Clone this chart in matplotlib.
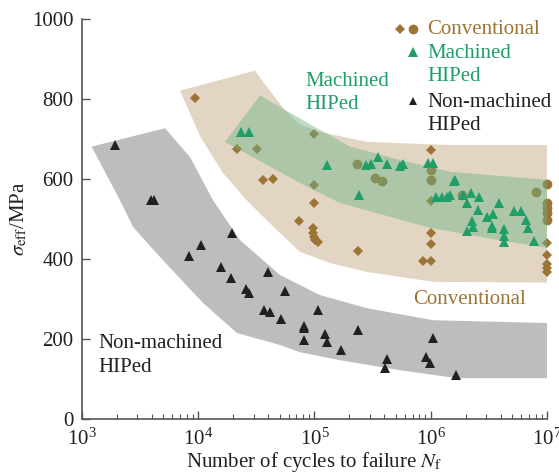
import numpy as np
import matplotlib
matplotlib.use('Agg')
import matplotlib.pyplot as plt
from matplotlib.ticker import LogLocator, NullFormatter

plt.rcParams['font.family'] = ['Liberation Serif', 'DejaVu Serif']
plt.rcParams['mathtext.fontset'] = 'stix'

# scatter data: cycles to failure, effective stress (MPa)
conv_dia_N = [9400, 21400, 31800, 35800, 44200, 73600, 99600, 99600, 99600,
              97000, 98000, 98500, 100500, 108000, 238000, 863000,
              1.0e6, 1.0e6, 1.0e6, 1.0e6, 1.0e6, 1e7, 1e7, 1e7, 1e7, 1e7]
conv_dia_S = [802, 674, 676, 598, 600, 496, 712, 585, 541,
              478, 466, 456, 448, 443, 421, 395,
              672, 546, 466, 437, 395, 441, 410, 388, 377, 368]

conv_cir_N = [231000, 331000, 378000, 1.0e6, 1.0e6, 1.87e6, 8.0e6,
              1e7, 1e7, 1e7, 1e7, 1e7]
conv_cir_S = [637, 603, 596, 622, 597, 560, 567, 587, 541, 527, 516, 498]

mach_N = [23300, 27500, 127000, 243000, 277000, 304000, 354000, 418000, 544000,
          573000, 953000, 1.04e6, 1.12e6, 1.24e6, 1.37e6, 1.47e6, 1.58e6,
          1.62e6, 1.91e6, 2.07e6, 2.22e6, 2.6e6, 2.56e6, 2.25e6, 2.3e6, 2.07e6,
          3.03e6, 3.45e6, 3.34e6, 3.34e6, 3.89e6, 4.27e6, 4.27e6, 4.27e6,
          5.2e6, 5.94e6, 6.55e6, 6.81e6, 7.78e6]
mach_S = [718, 718, 635, 560, 635, 637, 656, 637, 632,
          637, 639, 639, 554, 554, 554, 560, 595,
          597, 560, 539, 564, 554, 523, 496, 479, 471,
          506, 512, 482, 477, 541, 474, 457, 443,
          521, 519, 498, 477, 446]

nonmach_N = [1925, 3950, 4150, 8370, 10500, 15700, 19000, 19400, 25800, 27200,
             37000, 40100, 41400, 51700, 55700, 80600, 82000, 81200, 107900,
             123000, 127000, 169000, 238000, 406000, 423000, 911000, 985000,
             1.052e6, 1.64e6]
nonmach_S = [685, 548, 548, 407, 435, 379, 353, 464, 324, 314,
             272, 368, 267, 251, 320, 233, 228, 197, 272,
             212, 192, 172, 222, 127, 149, 156, 139,
             203, 110]

# scatter bands (outline traced clockwise)
conv_band_N = [6970, 30800, 38800, 55700, 75000, 111000, 281000, 1.47e6, 1e7,
               1e7, 1.046e6, 281000, 136000, 75000, 38800, 26100, 16300, 10400]
conv_band_S = [821, 871, 831, 772, 737, 718, 693, 685, 685,
               341, 343, 368, 390, 418, 497, 547, 615, 706]

mach_band_N = [17000, 34000, 91400, 202000, 543000, 1.47e6, 1e7,
               1e7, 3.72e6, 986000, 166000, 75000]
mach_band_S = [693, 809, 737, 681, 648, 618, 598,
               428, 448, 478, 540, 590]

nonmach_band_N = [1210, 5180, 8490, 13400, 22900, 50500, 111000, 283000, 1.046e6, 1e7,
                  1e7, 1.68e6, 543000, 166000, 75000, 50500, 21500, 11000, 4690, 2750, 2120]
nonmach_band_S = [681, 727, 655, 547, 447, 360, 310, 277, 247, 240,
                  102, 102, 122, 147, 167, 185, 215, 290, 405, 480, 547]

brown = '#9c7434'
green = '#1f9e68'
black = '#231f20'

fig = plt.figure(figsize=(5.59, 4.75), dpi=100)
ax = fig.add_axes([0.1467, 0.1179, 0.8318, 0.842])
ax.set_xscale('log')

ax.fill(conv_band_N, conv_band_S, color='#e3d5c3', lw=0, zorder=1)
ax.fill(nonmach_band_N, nonmach_band_S, color='#bdbdbd', lw=0, zorder=1)

ax.plot(conv_dia_N, conv_dia_S, 'D', color=brown, ms=5.5, mew=0, zorder=2, clip_on=False)
ax.plot(conv_cir_N, conv_cir_S, 'o', color=brown, ms=7, mew=0, zorder=2, clip_on=False)

ax.fill(mach_band_N, mach_band_S, color='#69b485', alpha=0.45, lw=0, zorder=3)

ax.plot(mach_N, mach_S, '^', color=green, ms=7.5, mew=0, zorder=4, clip_on=False)
ax.plot(nonmach_N, nonmach_S, '^', color=black, ms=7.5, mew=0, zorder=4, clip_on=False)

# band labels
ax.text(82800, 816, 'Machined\nHIPed', color=green, fontsize=15, ha='left', va='center',
        linespacing=1.3)
ax.text(703000, 300, 'Conventional', color=brown, fontsize=15, ha='left', va='center')
ax.text(1374, 159, 'Non-machined\nHIPed', color=black, fontsize=15, ha='left', va='center',
        linespacing=1.3)

# key, top right (markers sit on the first line of each entry)
tr = ax.transAxes
ax.plot([0.684], [0.975], 'D', color=brown, ms=5.5, mew=0, transform=tr, clip_on=False)
ax.plot([0.711], [0.975], 'o', color=brown, ms=7, mew=0, transform=tr, clip_on=False)
ax.plot([0.711], [0.917], '^', color=green, ms=6.5, mew=0, transform=tr, clip_on=False)
ax.plot([0.711], [0.796], '^', color=black, ms=5.5, mew=0, transform=tr, clip_on=False)
ax.text(0.742, 0.975, 'Conventional', color=brown, fontsize=15, ha='left', va='center',
        transform=tr)
ax.text(0.742, 0.886, 'Machined\nHIPed', color=green, fontsize=15, ha='left', va='center',
        linespacing=1.3, transform=tr)
ax.text(0.742, 0.763, 'Non-machined\nHIPed', color=black, fontsize=15, ha='left', va='center',
        linespacing=1.3, transform=tr)

ax.set_xlim(1e3, 1e7)
ax.set_ylim(0, 1000)
ax.set_yticks(np.arange(0, 1001, 200))
ax.xaxis.set_minor_locator(LogLocator(base=10, subs=np.arange(2, 10)))
ax.xaxis.set_minor_formatter(NullFormatter())

for s in ['top', 'right']:
    ax.spines[s].set_visible(False)
for s in ['left', 'bottom']:
    ax.spines[s].set_color('#555555')
    ax.spines[s].set_linewidth(1.2)

ax.tick_params(which='both', direction='in', color='#555555', labelcolor=black, labelsize=15)
ax.tick_params(axis='x', which='major', length=6, width=1.0, pad=7)
ax.tick_params(axis='y', which='major', length=6, width=1.0, pad=6)
ax.tick_params(which='minor', length=3.5, width=0.8)

ax.set_xlabel(r'Number of cycles to failure $N_{\rm f}$', fontsize=15, color=black, labelpad=0)
ax.set_ylabel(r'$\sigma_{\rm eff}$/MPa', fontsize=15, color=black, labelpad=2)

fig.savefig('out.png', dpi=100)
